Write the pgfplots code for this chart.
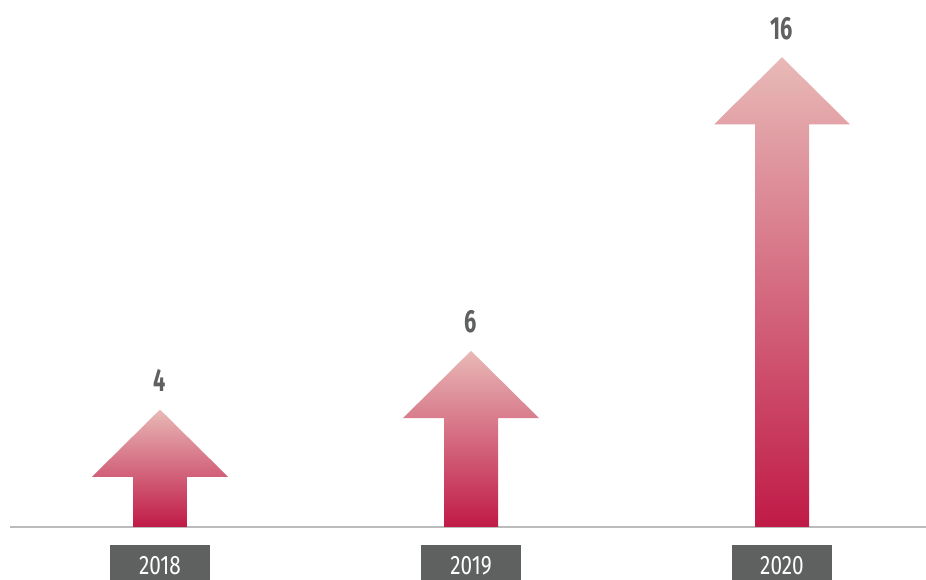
\documentclass[border=0pt]{standalone}
\usepackage{fontspec}
\setmainfont{Fira Sans}
\newfontfamily\valfont[FakeStretch=0.68]{Fira Sans}
\newfontfamily\yearfont[FakeStretch=0.78]{Fira Sans}
\usepackage{pgfplots}
\usepackage{pgfplotstable}
\pgfplotsset{compat=1.18}
\definecolor{toppink}{HTML}{E8B9B7}
\definecolor{midpink}{HTML}{D7646F}
\definecolor{crimson}{HTML}{C01A47}
\definecolor{boxgray}{HTML}{5F6060}
\definecolor{basegray}{HTML}{BBBBBB}

\pgfplotstableread{
x v
0 4
1 6
2 16
}\arrowdata

% arrow: shaft half width, head half width, head height (data units)
\newcommand{\arrowbar}[2]{%
  \pgfmathsetmacro{\xa}{#1-0.0868}\pgfmathsetmacro{\xb}{#1+0.0868}%
  \pgfmathsetmacro{\xc}{#1-0.2186}\pgfmathsetmacro{\xd}{#1+0.2186}%
  \pgfmathsetmacro{\yn}{#2-2.29}%
  \edef\temp{\noexpand\addplot[draw=none, top color=toppink, middle color=midpink, bottom color=crimson]
    coordinates {(\xa,0) (\xa,\yn) (\xc,\yn) (#1,#2) (\xd,\yn) (\xb,\yn) (\xb,0)};}%
  \temp}

\begin{document}
\begin{tikzpicture}
\begin{axis}[
    scale only axis,
    width=687pt, height=395.25pt,
    xmin=-0.4823, xmax=2.463,
    ymin=0, ymax=17.95,
    axis x line=bottom,
    axis y line=none,
    axis line style={-, draw=basegray, line width=1.1pt},
    major tick length=0pt,
    xtick={0,1,2},
    xticklabels={2018,2019,2020},
    xticklabel style={font=\yearfont\fontsize{20}{20}\selectfont, text=white,
        fill=boxgray, minimum width=75pt, minimum height=31.5pt,
        text height=13pt, text depth=0pt,
        inner sep=0pt, outer sep=0pt, anchor=north, yshift=-13.5pt},
    clip=false,
]
\arrowbar{0}{4}
\arrowbar{1}{6}
\arrowbar{2}{16}
\addplot[only marks, mark=none, point meta=explicit symbolic,
    nodes near coords={\valfont\bfseries\fontsize{24}{24}\selectfont\pgfplotspointmeta},
    nodes near coords style={anchor=base, inner sep=0pt, yshift=13.5pt, text=boxgray}]
    table[x=x, y=v, meta=v] {\arrowdata};
\coordinate (sw) at (rel axis cs:0,0);
\coordinate (ne) at (rel axis cs:1,1);
\end{axis}
\pgfresetboundingbox
\path ([xshift=-7.5pt, yshift=-39.75pt]sw) rectangle (ne);
\end{tikzpicture}
\end{document}
